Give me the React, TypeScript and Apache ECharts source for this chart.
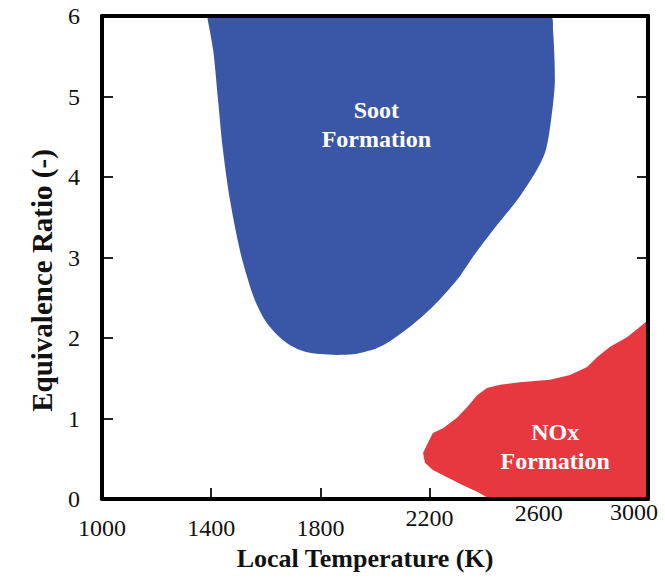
import React, { useEffect, useRef } from "react";
import * as echarts from "echarts";

// Axis ticks
const X_TICKS = [1000, 1400, 1800, 2200, 2600, 3000];
const Y_MIN = 0;
const Y_MAX = 6;

// Soot formation region boundary: local temperature (K) and equivalence ratio
const SOOT_T = [1385, 1407, 1425, 1443, 1469, 1505, 1535, 1560, 1597, 1641, 1689, 1744, 1799, 1861, 1927, 2018, 2128, 2212, 2300, 2359, 2432, 2520, 2593, 2626, 2645, 2659, 2652, 2641];
const SOOT_PHI = [6.0, 5.58, 4.96, 4.34, 3.71, 3.09, 2.72, 2.47, 2.22, 2.04, 1.91, 1.83, 1.80, 1.79, 1.80, 1.89, 2.14, 2.39, 2.72, 3.01, 3.34, 3.71, 4.09, 4.34, 4.71, 5.20, 5.83, 6.0];

// NOx formation region boundary
const NOX_T = [3000, 3000, 2971, 2923, 2861, 2813, 2777, 2714, 2641, 2531, 2458, 2410, 2374, 2337, 2300, 2249, 2212, 2194, 2176, 2183, 2212, 2264, 2322, 2374, 2421];
const NOX_PHI = [0, 2.22, 2.14, 2.01, 1.89, 1.76, 1.64, 1.54, 1.48, 1.45, 1.42, 1.38, 1.29, 1.14, 1.01, 0.88, 0.82, 0.70, 0.57, 0.45, 0.36, 0.27, 0.17, 0.09, 0];

// Region captions and where they sit (data coordinates)
const SOOT_LABEL = "Soot\nFormation";
const SOOT_LABEL_AT = [2005, 4.65];
const NOX_LABEL = "NOx\nFormation";
const NOX_LABEL_AT = [2660, 0.65];

const SERIF = '"Liberation Serif", "Times New Roman", "DejaVu Serif", serif';
const INK = "#111";

function regionRenderer(
  ts: number[],
  phis: number[],
  fill: string,
  smooth: number,
  label: string,
  labelAt: number[]
) {
  return (_params: any, api: any) => {
    const points: number[][] = ts.map((t, i) => api.coord([t, phis[i]]));
    // keep the smoothed outline inside the bounding box of its own points
    const xs = points.map((p) => p[0]);
    const ys = points.map((p) => p[1]);
    const bbox = [
      [Math.min(...xs), Math.min(...ys)],
      [Math.max(...xs), Math.max(...ys)],
    ];
    const c = api.coord(labelAt);
    return {
      type: "group",
      children: [
        {
          type: "polygon",
          shape: smooth > 0 ? { points, smooth, smoothConstraint: bbox } : { points },
          style: { fill },
        },
        {
          type: "text",
          x: c[0],
          y: c[1],
          style: {
            text: label,
            fill: "#ffffff",
            fontFamily: SERIF,
            fontSize: 24,
            fontWeight: "bold",
            align: "center",
            verticalAlign: "middle",
            lineHeight: 29,
          },
        },
      ],
    };
  };
}

// Per-label styles for the temperature ticks (the right-most label is pulled inside the frame)
const X_LABEL_STYLE: Record<number, string> = {
  1000: "a",
  1400: "a",
  1800: "a",
  2200: "b",
  2600: "c",
  3000: "d",
};

const frameLine = { show: true, onZero: false, lineStyle: { color: "#000", width: 4 } };
const tickStyle = { show: true, inside: true, length: 11, lineStyle: { color: "#222", width: 2 } };

export default function App() {
  const ref = useRef<HTMLDivElement>(null);

  useEffect(() => {
    if (!ref.current) return;
    const chart = echarts.init(ref.current, undefined, { renderer: "svg" });

    const xBase = { type: "value", min: X_TICKS[0], max: X_TICKS[X_TICKS.length - 1], splitLine: { show: false } };
    const yBase = { type: "value", min: Y_MIN, max: Y_MAX, interval: 1, splitLine: { show: false } };

    chart.setOption({
      animation: false,
      backgroundColor: "#ffffff",
      grid: { left: 102, right: 17, top: 16, bottom: 82, containLabel: false },
      xAxis: [
        {
          ...xBase,
          position: "bottom",
          axisLine: { show: false, onZero: false },
          axisTick: { ...tickStyle, customValues: X_TICKS },
          axisLabel: {
            customValues: X_TICKS,
            margin: 29,
            verticalAlign: "middle",
            fontFamily: SERIF,
            fontSize: 24,
            color: INK,
            formatter: (v: number) => `{${X_LABEL_STYLE[v] || "a"}|${v}}`,
            rich: {
              a: { fontFamily: SERIF, fontSize: 24, color: INK },
              b: { fontFamily: SERIF, fontSize: 24, color: INK, padding: [0, 0, 20, 0] },
              c: { fontFamily: SERIF, fontSize: 24, color: INK, padding: [0, 0, 30, 0] },
              d: { fontFamily: SERIF, fontSize: 24, color: INK, padding: [0, 28, 32, 0] },
            },
          },
          name: "Local Temperature (K)",
          nameLocation: "middle",
          nameGap: 46,
          nameTextStyle: {
            fontFamily: SERIF,
            fontSize: 26,
            fontWeight: "bold",
            color: INK,
            padding: [0, 20, 0, 0],
          },
        },
        { ...xBase, position: "bottom", z: 5, axisLine: frameLine, axisTick: { show: false }, axisLabel: { show: false } },
        { ...xBase, position: "top", z: 5, axisLine: frameLine, axisTick: { show: false }, axisLabel: { show: false } },
      ],
      yAxis: [
        {
          ...yBase,
          position: "left",
          axisLine: { show: false, onZero: false },
          axisTick: tickStyle,
          axisLabel: { margin: 22, fontFamily: SERIF, fontSize: 24, color: INK },
          name: "Equivalence Ratio (-)",
          nameLocation: "middle",
          nameGap: 46,
          nameTextStyle: {
            fontFamily: SERIF,
            fontSize: 29,
            fontWeight: "bold",
            color: INK,
            padding: [0, 46, 0, 0],
          },
        },
        { ...yBase, position: "left", z: 5, axisLine: frameLine, axisTick: { show: false }, axisLabel: { show: false } },
        { ...yBase, position: "right", axisLine: { show: false, onZero: false }, axisTick: tickStyle, axisLabel: { show: false } },
        { ...yBase, position: "right", z: 5, axisLine: frameLine, axisTick: { show: false }, axisLabel: { show: false } },
      ],
      series: [
        {
          type: "custom",
          name: "Soot Formation",
          xAxisIndex: 0,
          yAxisIndex: 0,
          clip: true,
          silent: true,
          z: 2,
          data: [[SOOT_T[0], SOOT_PHI[0]]],
          renderItem: regionRenderer(SOOT_T, SOOT_PHI, "#3a57a7", 0.3, SOOT_LABEL, SOOT_LABEL_AT),
        },
        {
          type: "custom",
          name: "NOx Formation",
          xAxisIndex: 0,
          yAxisIndex: 0,
          clip: true,
          silent: true,
          z: 2,
          data: [[NOX_T[0], NOX_PHI[0]]],
          renderItem: regionRenderer(NOX_T, NOX_PHI, "#e8383f", 0, NOX_LABEL, NOX_LABEL_AT),
        },
      ],
    });

    return () => chart.dispose();
  }, []);

  return (
    <div
      ref={ref}
      style={{ position: "fixed", left: 0, top: 0, width: 665, height: 581, background: "#fff" }}
    />
  );
}
